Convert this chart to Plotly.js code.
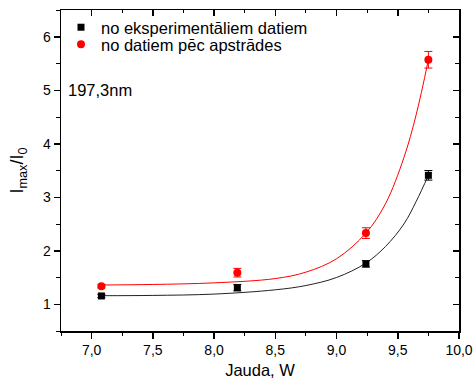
<!DOCTYPE html>
<html>
<head>
<meta charset="utf-8">
<script src="https://cdn.plot.ly/plotly-3.0.1.min.js"></script>
<style>html,body{margin:0;padding:0;background:#fff;}#chart{width:474px;height:379px;}</style>
</head>
<body>
<div id="chart"></div>
<script>
// Measured points
const powerX = [7.08, 8.19, 9.24, 9.75];
const expY = [1.155, 1.31, 1.755, 3.41];
const expErr = [0.03, 0.06, 0.06, 0.09];
const procY = [1.335, 1.59, 2.33, 5.57];
const procErr = [0.03, 0.08, 0.10, 0.155];
// Fit curves
const fitX = [7.08, 7.5, 8.0, 8.5, 8.75, 9.0, 9.24, 9.4, 9.55, 9.65, 9.75];
const fitExpY = [1.16, 1.165, 1.19, 1.27, 1.35, 1.5, 1.77, 2.08, 2.5, 2.92, 3.41];
const fitProcY = [1.36, 1.37, 1.40, 1.48, 1.6, 1.85, 2.33, 2.88, 3.74, 4.54, 5.57];
const legendNames = ["no eksperimentāliem datiem", "no datiem pēc apstrādes"];
const noteText = "197,3nm";
const xTitle = "Jauda, W";
const yTitle = "I<sub>max</sub>/I<sub>0</sub>";

const font = "Arial, 'Liberation Sans', sans-serif";
const traces = [
  {x: fitX, y: fitExpY, mode: 'lines', line: {color: '#222', width: 1, shape: 'spline'}, showlegend: false, hoverinfo: 'skip'},
  {x: fitX, y: fitProcY, mode: 'lines', line: {color: '#ff0000', width: 1, shape: 'spline'}, showlegend: false, hoverinfo: 'skip'},
  {x: powerX, y: expY, mode: 'markers', name: legendNames[0], legend: 'legend',
   marker: {symbol: 'square', size: 7, color: '#000'},
   error_y: {type: 'data', array: expErr, visible: true, color: '#000', thickness: 1, width: 4}},
  {x: powerX, y: procY, mode: 'markers', name: legendNames[1], legend: 'legend2',
   marker: {symbol: 'circle', size: 8, color: '#ff0000'},
   error_y: {type: 'data', array: procErr, visible: true, color: '#ff0000', thickness: 1, width: 4}},
  {x: [], y: [], xaxis: 'x2', yaxis: 'y2', showlegend: false, hoverinfo: 'skip'}
];
const axisCommon = {
  showgrid: false, zeroline: false, showline: true, linecolor: '#000', linewidth: 1.5,
  tickcolor: '#000', tickwidth: 1.5, ticklen: 6, automargin: false,
  tickfont: {family: font, size: 14, color: '#000'}
};
const legendCommon = {xanchor: 'left', yanchor: 'top', bgcolor: 'rgba(0,0,0,0)',
  font: {family: font, size: 16.5, color: '#000'}};
const layout = {
  width: 474, height: 379,
  margin: {l: 61, r: 15, t: 10, b: 48},
  separators: ', ',
  paper_bgcolor: '#fff', plot_bgcolor: '#fff',
  font: {family: font, color: '#000'},
  xaxis: Object.assign({}, axisCommon, {
    range: [6.75, 10.0], dtick: 0.5, tick0: 7, tickformat: '.1f', ticks: 'outside',
    minor: {dtick: 0.25, tick0: 7, ticks: 'outside', ticklen: 3, tickcolor: '#000', tickwidth: 1},
    title: {text: xTitle, font: {family: font, size: 16.5, color: '#000'}, standoff: 8}
  }),
  yaxis: Object.assign({}, axisCommon, {
    range: [0.5, 6.5], dtick: 1, tick0: 1, ticks: 'outside',
    minor: {dtick: 0.5, tick0: 0.5, ticks: 'outside', ticklen: 4, tickcolor: '#000', tickwidth: 1},
    title: {text: yTitle, font: {family: font, size: 18, color: '#000'}, standoff: 14}
  }),
  xaxis2: Object.assign({}, axisCommon, {
    overlaying: 'x', side: 'top', range: [6.75, 10.0], dtick: 0.5, tick0: 7, ticks: 'inside',
    showticklabels: false, minor: {dtick: 0.25, tick0: 7, ticks: 'inside', ticklen: 3, tickcolor: '#000', tickwidth: 1}
  }),
  yaxis2: Object.assign({}, axisCommon, {
    overlaying: 'y', side: 'right', range: [0.5, 6.5], dtick: 1, tick0: 1, ticks: 'inside',
    showticklabels: false, minor: {dtick: 0.5, tick0: 0.5, ticks: 'inside', ticklen: 4, tickcolor: '#000', tickwidth: 1}
  }),
  showlegend: true,
  legend: Object.assign({}, legendCommon, {x: 0.0, y: 1.0}),
  legend2: Object.assign({}, legendCommon, {x: 0.0, y: 0.947}),
  annotations: [{xref: 'paper', yref: 'paper', x: 0.012, y: 0.751, xanchor: 'left', yanchor: 'middle',
    text: noteText, showarrow: false, font: {family: font, size: 16.5, color: '#000'}}]
};
Plotly.newPlot('chart', traces, layout, {displayModeBar: false, staticPlot: true});
</script>
</body>
</html>
